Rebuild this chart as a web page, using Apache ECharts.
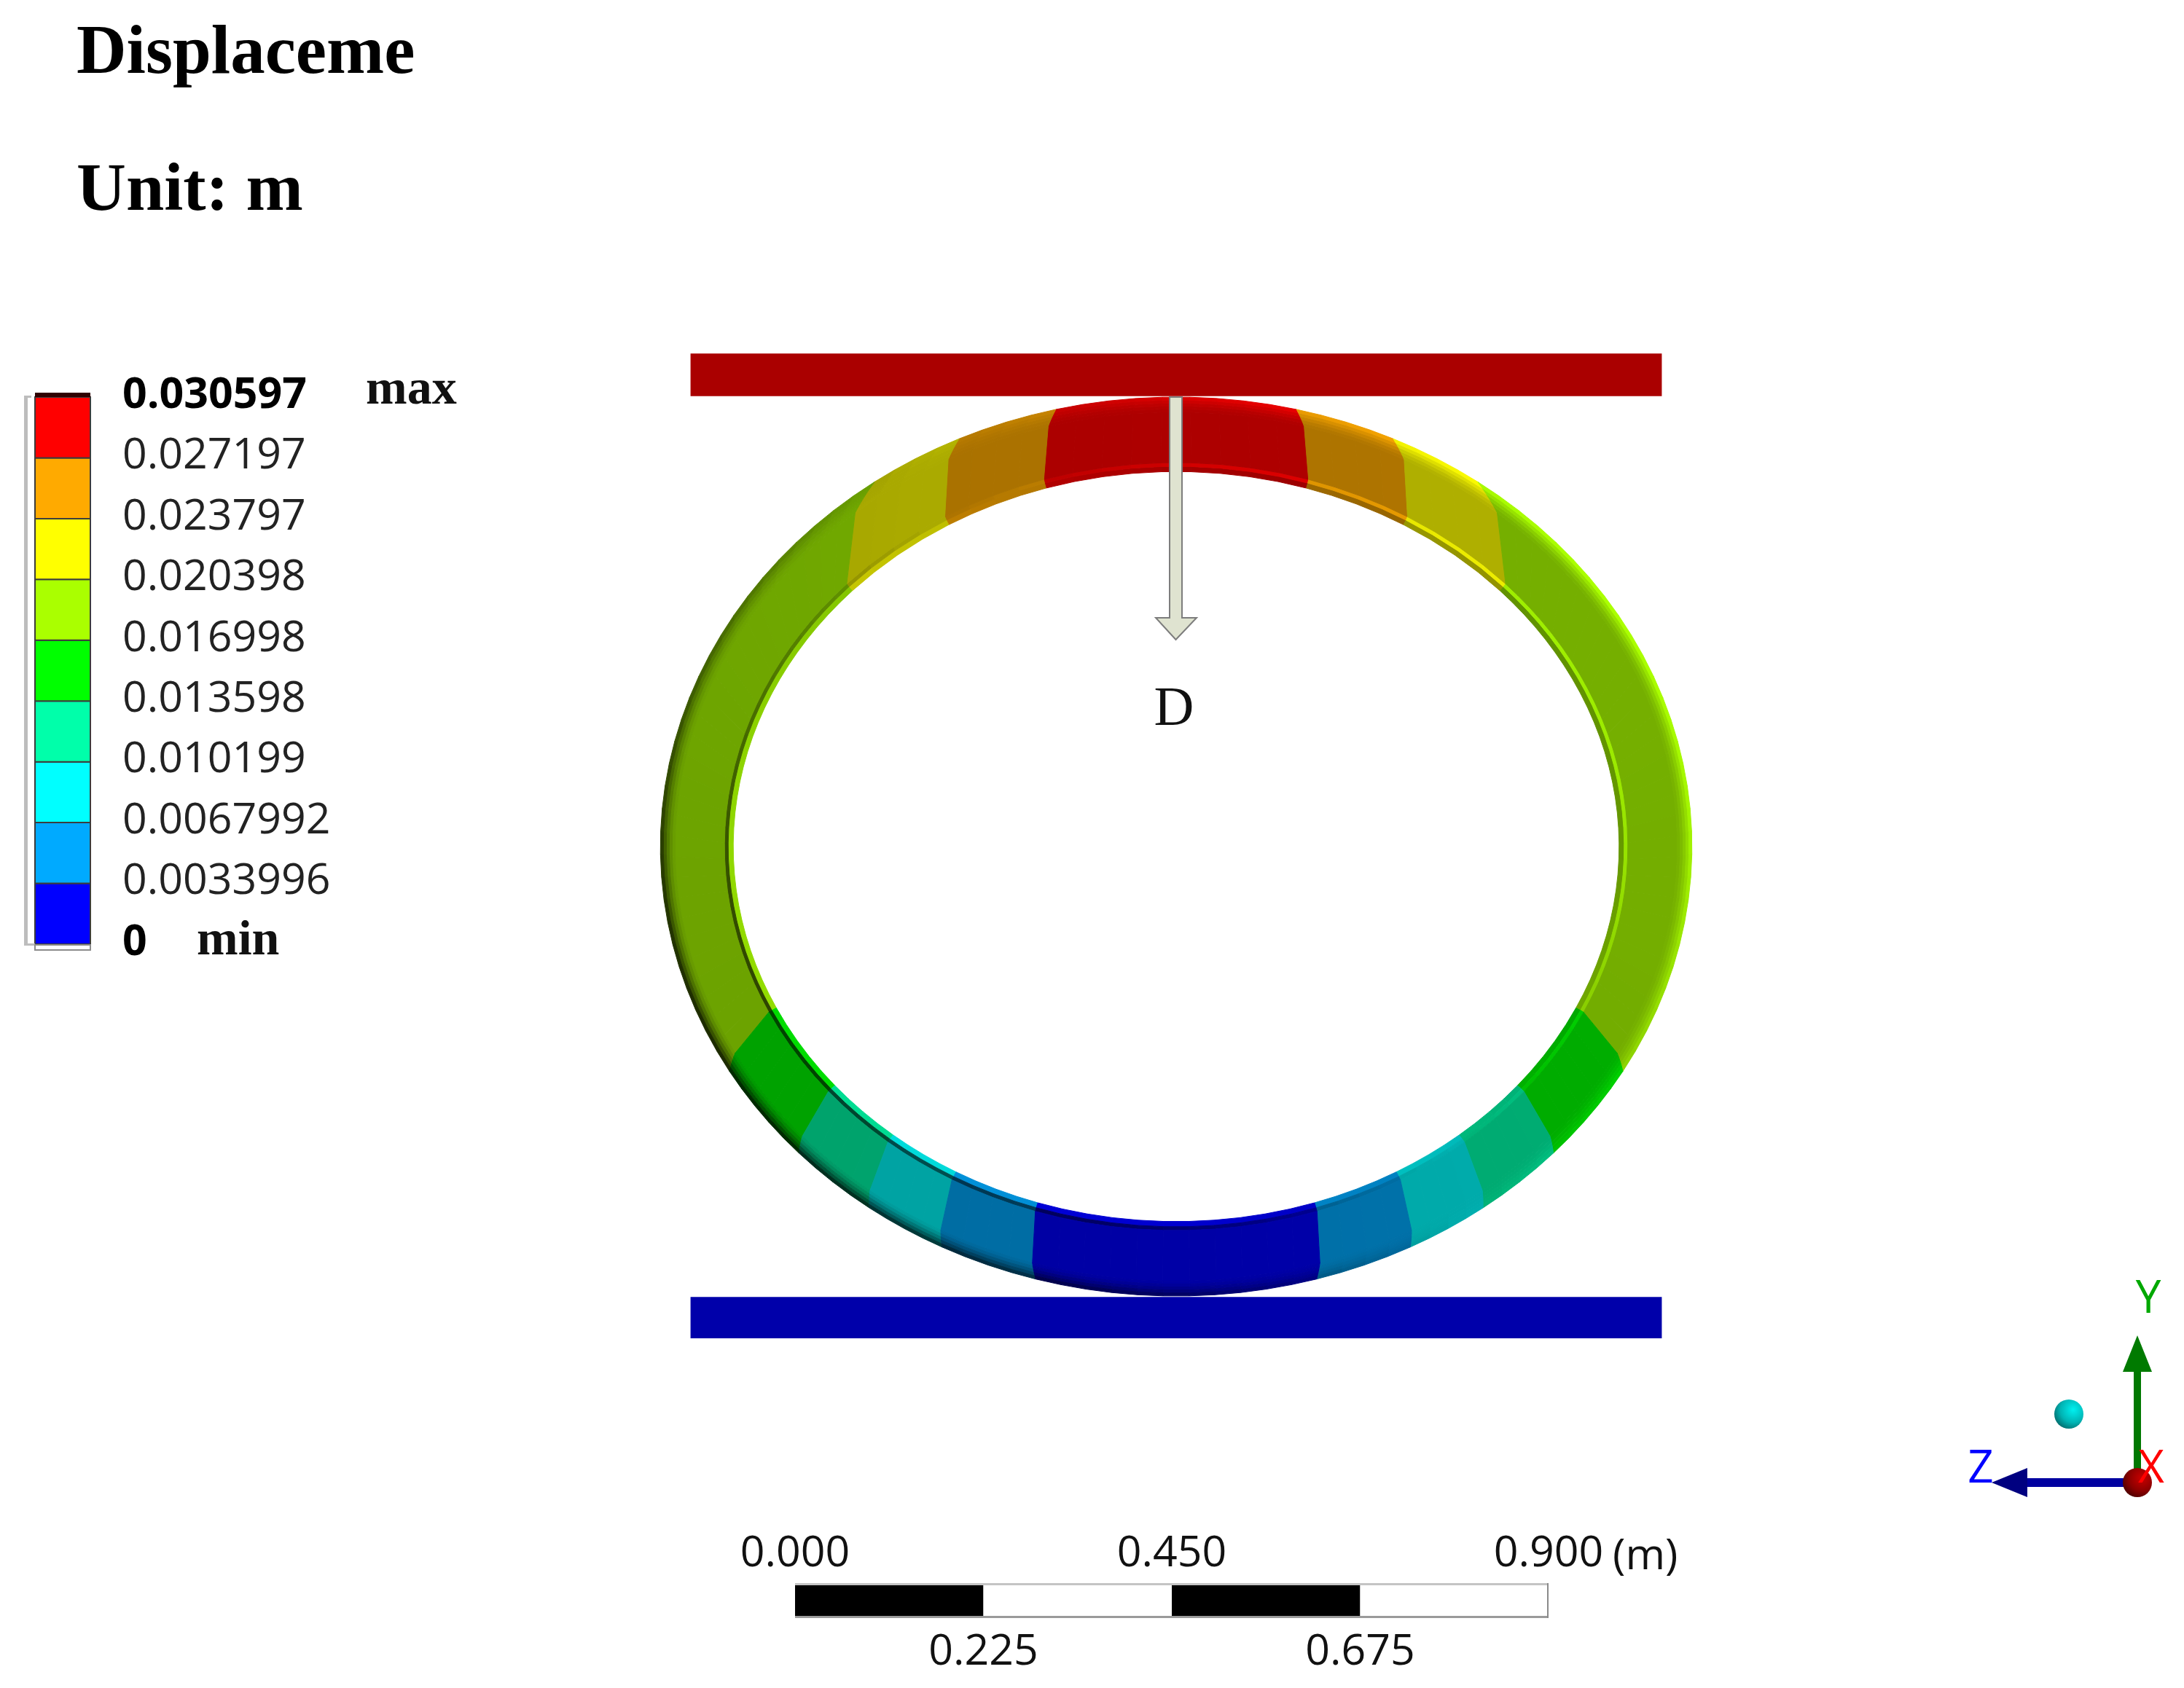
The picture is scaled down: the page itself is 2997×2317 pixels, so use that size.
<!DOCTYPE html>
<html>
<head>
<meta charset="utf-8">
<title>Displacement</title>
<script src="https://cdn.jsdelivr.net/npm/echarts@6/dist/echarts.min.js"></script>
<style>
html, body { margin: 0; padding: 0; background: #fff; }
#main { width: 2997px; height: 2317px; }
</style>
</head>
<body>
<div id="main"></div>
<script>
// legend class limits, bottom to top
var levelValues = [0, 0.0033996, 0.0067992, 0.010199, 0.013598, 0.016998, 0.020398, 0.023797, 0.027197, 0.030597];
var levelColors = ['#0000ff', '#00aaff', '#00ffff', '#00ffaa', '#00ff00', '#aaff00', '#ffff00', '#ffaa00', '#ff0000'];

// where the bands change along the ring, degrees clockwise from the top (right half, left is mirrored)
var ringOuterAngles = [13.5, 24.9, 35.8, 120, 133, 143.5, 153, 164.2];
var ringInnerAngles = [17.1, 30.9, 47, 115.5, 129.6, 140.3, 150.2, 161.8];
// class index of each band, starting from the top of the ring
var ringBandLevels = [8, 7, 6, 5, 4, 3, 2, 1, 0];

// ring and plates in metres, origin at the ring centre
var ringOuter = [0.616, 0.537];
var ringInner = [0.529, 0.448];
var plateHalfWidth = 0.58;
var plateTop = [0.538, 0.589];
var plateBottom = [-0.5875, -0.538];

// scale bar
var scaleEdges = [0, 0.225, 0.45, 0.675, 0.9];
var scaleTop = [0, 0.45, 0.9];
var scaleBottom = [0.225, 0.675];

var pxPerM = 1149;
var centerX = 1614;
var centerY = 1162;

// the strips across the ring section: from, to (0 inner edge, 1 outer edge), tilt of the surface, extra light
var ringStrips = [
    [0, 0.07, -0.35, 0.08], [0.07, 0.12, 0.8, 0], [0.12, 0.8, 0.06, 0], [0.8, 0.84, 0.12, 0],
    [0.84, 0.88, 0.25, 0], [0.88, 0.92, 0.45, 0], [0.92, 0.96, 0.7, 0], [0.96, 1, 1, 0]
];

function shadeColor(hex, angle, tilt, extra) {
    var rad = angle * Math.PI / 180;
    var light = (0.7 * Math.sin(rad) + 0.45 * Math.cos(rad)) * tilt;
    var s = 0.667 + extra + (light > 0 ? 0.4 : 0.6) * light;
    s = Math.max(0.1, Math.min(1, s));
    var r = parseInt(hex.substr(1, 2), 16) * s;
    var g = parseInt(hex.substr(3, 2), 16) * s;
    var b = parseInt(hex.substr(5, 2), 16) * s;
    return 'rgb(' + Math.round(r) + ',' + Math.round(g) + ',' + Math.round(b) + ')';
}

function ringPoint(api, angle, t) {
    var rad = angle * Math.PI / 180;
    var rx = ringInner[0] + t * (ringOuter[0] - ringInner[0]);
    var ry = ringInner[1] + t * (ringOuter[1] - ringInner[1]);
    return api.coord([rx * Math.sin(rad), ry * Math.cos(rad)]);
}

// band edges bend towards the outer rim
function edgeAngle(inner, outer, t) {
    return inner + (outer - inner) * t * t;
}

// one band of the ring, cut in small pieces so that the shading can follow the angle
function renderRingBand(params, api) {
    var color = levelColors[api.value(0)];
    var outerFrom = api.value(1), outerTo = api.value(2);
    var innerFrom = api.value(3), innerTo = api.value(4);
    var children = [];
    var steps = Math.max(2, Math.ceil(Math.abs(outerTo - outerFrom) / 3));
    ringStrips.forEach(function (strip) {
        var fromA = edgeAngle(innerFrom, outerFrom, strip[0]);
        var toA = edgeAngle(innerTo, outerTo, strip[0]);
        var fromB = edgeAngle(innerFrom, outerFrom, strip[1]);
        var toB = edgeAngle(innerTo, outerTo, strip[1]);
        for (var i = 0; i < steps; i++) {
            var a0 = fromA + (toA - fromA) * i / steps;
            var a1 = fromA + (toA - fromA) * (i + 1) / steps;
            var b0 = fromB + (toB - fromB) * i / steps;
            var b1 = fromB + (toB - fromB) * (i + 1) / steps;
            var fill = shadeColor(color, (a0 + a1) / 2, strip[2], strip[3]);
            children.push({
                type: 'polygon',
                shape: { points: [ringPoint(api, a0, strip[0]), ringPoint(api, a1, strip[0]), ringPoint(api, b1, strip[1]), ringPoint(api, b0, strip[1])] },
                style: { fill: fill, stroke: fill, lineWidth: 1 }
            });
        }
    });
    return { type: 'group', children: children };
}

var ringData = [];
ringBandLevels.forEach(function (level, i) {
    if (i === 0) {
        ringData.push([level, -ringOuterAngles[0], ringOuterAngles[0], -ringInnerAngles[0], ringInnerAngles[0]]);
    } else if (i === ringBandLevels.length - 1) {
        ringData.push([level, ringOuterAngles[i - 1], 360 - ringOuterAngles[i - 1], ringInnerAngles[i - 1], 360 - ringInnerAngles[i - 1]]);
    } else {
        ringData.push([level, ringOuterAngles[i - 1], ringOuterAngles[i], ringInnerAngles[i - 1], ringInnerAngles[i]]);
        ringData.push([level, -ringOuterAngles[i - 1], -ringOuterAngles[i], -ringInnerAngles[i - 1], -ringInnerAngles[i]]);
    }
});

var legendData = levelColors.map(function (c, i) {
    return [0, levelValues[i], levelValues[i + 1], i];
});

var scaleData = [];
for (var k = 0; k < scaleEdges.length - 1; k++) {
    scaleData.push([scaleEdges[k], scaleEdges[k + 1], k]);
}

var hiddenAxis = { axisLine: { show: false }, axisTick: { show: false }, axisLabel: { show: false }, splitLine: { show: false } };

function scaleAxis(position, values, margin) {
    return {
        type: 'value', gridIndex: 2, position: position, min: 0, max: 0.9,
        axisLine: { show: false }, axisTick: { show: false }, splitLine: { show: false },
        axisLabel: {
            customValues: values,
            margin: margin,
            fontFamily: 'Open Sans', fontSize: 59, color: '#111',
            formatter: function (v) { return v.toFixed(3); }
        }
    };
}

function plainText(x, y, text, font, size, weight, color, align) {
    return {
        type: 'text', silent: true, z: 100,
        style: { x: x, y: y, text: text, fontFamily: font, fontSize: size, fontWeight: weight, fill: color, align: align || 'left', verticalAlign: 'middle' }
    };
}

function plainRect(x, y, w, h, fill, stroke) {
    return {
        type: 'rect', silent: true, z: 100,
        shape: { x: x, y: y, width: w, height: h },
        style: { fill: fill, stroke: stroke || null, lineWidth: stroke ? 2 : 0 }
    };
}

function sphere(x, y, r, light, mid, dark) {
    return {
        type: 'circle', silent: true, z: 100,
        shape: { cx: x, cy: y, r: r },
        style: {
            fill: {
                type: 'radial', x: 0.65, y: 0.35, r: 0.8,
                colorStops: [{ offset: 0, color: light }, { offset: 0.55, color: mid }, { offset: 1, color: dark }]
            }
        }
    };
}

var chart = echarts.init(document.getElementById('main'));

var option = {
    animation: false,
    backgroundColor: '#ffffff',
    grid: [
        { left: 0, top: 0, right: 0, bottom: 0 },
        { left: 48, top: 545, width: 76, height: 751 },
        { left: 1091, top: 2175, width: 1034, height: 44 }
    ],
    xAxis: [
        Object.assign({ type: 'value', gridIndex: 0, min: -centerX / pxPerM, max: (2997 - centerX) / pxPerM }, hiddenAxis),
        Object.assign({ type: 'value', gridIndex: 1, min: 0, max: 1 }, hiddenAxis),
        scaleAxis('top', scaleTop, 12),
        scaleAxis('bottom', scaleBottom, 20)
    ],
    yAxis: [
        Object.assign({ type: 'value', gridIndex: 0, min: -(2317 - centerY) / pxPerM, max: centerY / pxPerM }, hiddenAxis),
        {
            type: 'value', gridIndex: 1, position: 'right', min: 0, max: levelValues[levelValues.length - 1],
            axisLine: { show: false }, axisTick: { show: false }, splitLine: { show: false },
            axisLabel: {
                customValues: levelValues,
                margin: 44,
                align: 'left',
                padding: [0, 0, 4, 0],
                fontFamily: 'Open Sans', fontSize: 59, color: '#222',
                formatter: function (v, i) {
                    var s = String(v);
                    if (v === 0 || v === levelValues[levelValues.length - 1]) {
                        return '{b|' + s + '}';
                    }
                    return s;
                },
                rich: { b: { fontFamily: 'Open Sans', fontSize: 59, fontWeight: 'bold', color: '#000' } }
            }
        },
        Object.assign({ type: 'value', gridIndex: 2, min: 0, max: 1 }, hiddenAxis)
    ],
    series: [
        // plates
        {
            type: 'custom', xAxisIndex: 0, yAxisIndex: 0, silent: true, clip: false,
            data: [[plateTop[0], plateTop[1], '#aa0000'], [plateBottom[0], plateBottom[1], '#0000aa']],
            renderItem: function (params, api) {
                var a = api.coord([-plateHalfWidth, api.value(1)]);
                var b = api.coord([plateHalfWidth, api.value(0)]);
                return { type: 'rect', shape: { x: a[0], y: a[1], width: b[0] - a[0], height: b[1] - a[1] }, style: { fill: api.value(2) } };
            }
        },
        // ring
        {
            type: 'custom', xAxisIndex: 0, yAxisIndex: 0, silent: true, clip: false,
            data: ringData,
            renderItem: renderRingBand
        },
        // legend colour column
        {
            type: 'custom', xAxisIndex: 1, yAxisIndex: 1, silent: true, clip: false,
            data: legendData,
            renderItem: function (params, api) {
                var a = api.coord([0, api.value(2)]);
                var b = api.coord([1, api.value(1)]);
                return {
                    type: 'rect',
                    shape: { x: a[0], y: a[1], width: b[0] - a[0], height: b[1] - a[1] },
                    style: { fill: levelColors[api.value(3)], stroke: '#3c3c3c', lineWidth: 2 }
                };
            }
        },
        // scale bar
        {
            type: 'custom', xAxisIndex: 2, yAxisIndex: 2, silent: true, clip: false,
            data: scaleData,
            renderItem: function (params, api) {
                var a = api.coord([api.value(0), 1]);
                var b = api.coord([api.value(1), 0]);
                return {
                    type: 'rect',
                    shape: { x: a[0], y: a[1], width: b[0] - a[0], height: b[1] - a[1] },
                    style: { fill: api.value(2) % 2 === 0 ? '#000000' : '#ffffff' }
                };
            }
        }
    ],
    graphic: {
        elements: [
            // title
            plainText(105, 75, 'Displaceme', 'Liberation Serif', 95, 'bold', '#000'),
            plainText(105, 264, 'Unit: m', 'Liberation Serif', 94, 'bold', '#000'),

            // legend frame and extra labels
            plainRect(33, 543, 5, 753, '#bdbdbd'),
            plainRect(33, 543, 10, 3, '#bdbdbd'),
            plainRect(33, 1295, 15, 3, '#bdbdbd'),
            plainRect(48, 539, 76, 6, '#300000'),
            plainRect(48, 1297, 76, 7, '#ffffff', '#8c8c8c'),
            plainText(502, 536, 'max', 'Liberation Serif', 68, 'bold', '#111'),
            plainText(270, 1292, 'min', 'Liberation Serif', 68, 'bold', '#111'),

            // load arrow
            {
                type: 'polygon', silent: true, z: 100,
                shape: { points: [[1605, 545], [1622, 545], [1622, 848], [1642, 848], [1613.5, 878], [1586, 848], [1605, 848]] },
                style: { fill: '#dfe3d0', stroke: '#7d7d7d', lineWidth: 2 }
            },
            plainText(1611, 975, 'D', 'Liberation Serif', 76, 'normal', '#111', 'center'),

            // scale bar frame and unit
            plainRect(1091, 2173, 1034, 3, '#c4c4c4'),
            plainRect(1091, 2218, 1034, 3, '#9a9a9a'),
            plainRect(2123, 2173, 2, 48, '#8a8a8a'),
            plainText(2213, 2137, '(m)', 'Open Sans', 59, 'normal', '#111'),

            // triad
            plainRect(2928, 1883, 10, 140, '#007800'),
            { type: 'polygon', silent: true, z: 100, shape: { points: [[2933, 1833], [2953, 1883], [2913, 1883]] }, style: { fill: '#007a00' } },
            plainRect(2782, 2029, 135, 12, '#0000a0'),
            { type: 'polygon', silent: true, z: 100, shape: { points: [[2733, 2035], [2782, 2015], [2782, 2055]] }, style: { fill: '#000080' } },
            sphere(2933, 2035, 20, '#c80000', '#8c0000', '#3c0000'),
            sphere(2839, 1941, 20, '#00f0f0', '#00b4b4', '#005a5a'),
            plainText(2948, 1784, 'Y', 'Open Sans', 62, 'normal', '#00a800', 'center'),
            plainText(2718, 2017, 'Z', 'Open Sans', 62, 'normal', '#0000ff', 'center'),
            plainText(2952, 2017, 'X', 'Open Sans', 62, 'normal', '#ff0000', 'center')
        ]
    }
};

chart.setOption(option);
</script>
</body>
</html>
